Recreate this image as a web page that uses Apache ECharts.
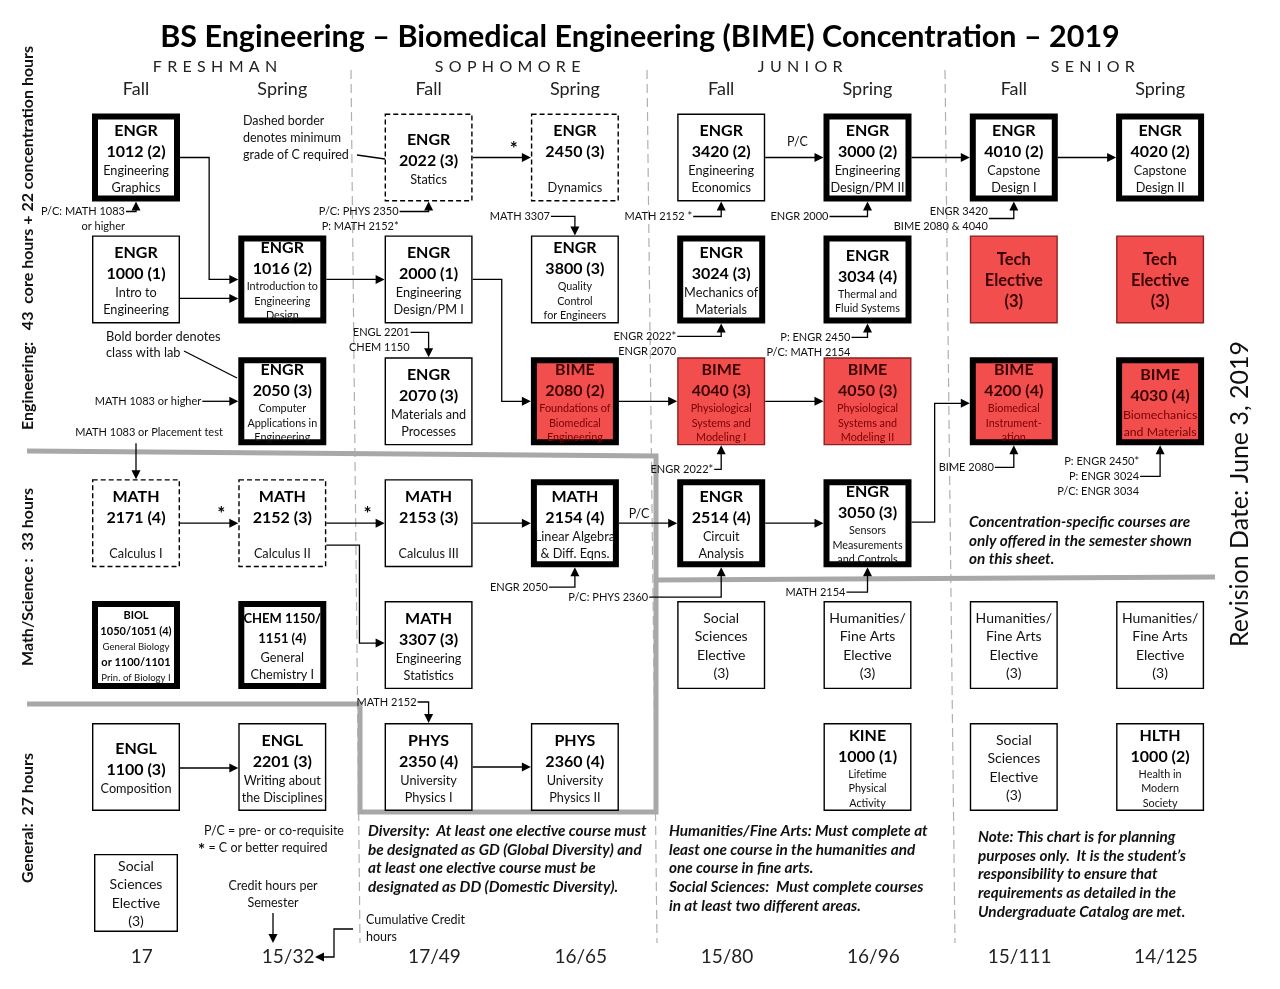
<!DOCTYPE html>
<html><head><meta charset="utf-8">
<script src="https://cdn.jsdelivr.net/npm/echarts@6/dist/echarts.min.js"></script>
<style>html,body{margin:0;padding:0;background:#fff}#c{width:1280px;height:989px}</style>
</head><body><div id="c"></div>
<script>
// ================= DATA =================
const chartTitle = 'BS Engineering – Biomedical Engineering (BIME) Concentration – 2019';
const yearNames = ['FRESHMAN', 'SOPHOMORE', 'JUNIOR', 'SENIOR'];
const semesterNames = ['Fall', 'Spring', 'Fall', 'Spring', 'Fall', 'Spring', 'Fall', 'Spring'];
const creditHours = ['17', '15/32', '17/49', '16/65', '15/80', '16/96', '15/111', '14/125'];
const sectionNames = ['Engineering:   43  core hours + 22 concentration hours', 'Math/Science :  33 hours', 'General:  27 hours'];
const revisionDate = 'Revision Date: June 3, 2019';

const courseLines = [
  ['ENGR', '1012 (2)', 'Engineering', 'Graphics'],
  ['ENGR', '2022 (3)', 'Statics'],
  ['ENGR', '2450 (3)', '', 'Dynamics'],
  ['ENGR', '3420 (2)', 'Engineering', 'Economics'],
  ['ENGR', '3000 (2)', 'Engineering', 'Design/PM II'],
  ['ENGR', '4010 (2)', 'Capstone', 'Design I'],
  ['ENGR', '4020 (2)', 'Capstone', 'Design II'],
  ['ENGR', '1000 (1)', 'Intro to', 'Engineering'],
  ['ENGR', '1016 (2)', 'Introduction to', 'Engineering', 'Design'],
  ['ENGR', '2000 (1)', 'Engineering', 'Design/PM I'],
  ['ENGR', '3800 (3)', 'Quality', 'Control', 'for Engineers'],
  ['ENGR', '3024 (3)', 'Mechanics of', 'Materials'],
  ['ENGR', '3034 (4)', 'Thermal and', 'Fluid Systems'],
  ['Tech', 'Elective', '(3)'],
  ['Tech', 'Elective', '(3)'],
  ['ENGR', '2050 (3)', 'Computer', 'Applications in', 'Engineering'],
  ['ENGR', '2070 (3)', 'Materials and', 'Processes'],
  ['BIME', '2080 (2)', 'Foundations of', 'Biomedical', 'Engineering'],
  ['BIME', '4040 (3)', 'Physiological', 'Systems and', 'Modeling I'],
  ['BIME', '4050 (3)', 'Physiological', 'Systems and', 'Modeling II'],
  ['BIME', '4200 (4)', 'Biomedical', 'Instrument-', 'ation'],
  ['BIME', '4030 (4)', 'Biomechanics', 'and Materials'],
  ['MATH', '2171 (4)', '', 'Calculus I'],
  ['MATH', '2152 (3)', '', 'Calculus II'],
  ['MATH', '2153 (3)', '', 'Calculus III'],
  ['MATH', '2154 (4)', 'Linear Algebra', '& Diff. Eqns.'],
  ['ENGR', '2514 (4)', 'Circuit', 'Analysis'],
  ['ENGR', '3050 (3)', 'Sensors', 'Measurements', 'and Controls'],
  ['BIOL', '1050/1051 (4)', 'General Biology', 'or 1100/1101', 'Prin. of Biology I'],
  ['CHEM 1150/', '1151 (4)', 'General', 'Chemistry I'],
  ['MATH', '3307 (3)', 'Engineering', 'Statistics'],
  ['Social', 'Sciences', 'Elective', '(3)'],
  ['Humanities/', 'Fine Arts', 'Elective', '(3)'],
  ['Humanities/', 'Fine Arts', 'Elective', '(3)'],
  ['Humanities/', 'Fine Arts', 'Elective', '(3)'],
  ['ENGL', '1100 (3)', 'Composition'],
  ['ENGL', '2201 (3)', 'Writing about', 'the Disciplines'],
  ['PHYS', '2350 (4)', 'University', 'Physics I'],
  ['PHYS', '2360 (4)', 'University', 'Physics II'],
  ['KINE', '1000 (1)', 'Lifetime', 'Physical', 'Activity'],
  ['Social', 'Sciences', 'Elective', '(3)'],
  ['HLTH', '1000 (2)', 'Health in', 'Modern', 'Society'],
  ['Social', 'Sciences', 'Elective', '(3)']
];
// semester index (0 = Freshman Fall ... 7 = Senior Spring)
const courseSemester = [0,2,3,4,5,6,7, 0,1,2,3,4,5,6,7, 1,2,3,4,5,6,7, 0,1,2,3,4,5, 0,1,2,4,5,6,7, 0,1,2,3,5,6,7, 0];
// row slot in the chart
const courseRow = [0,0,0,0,0,0,0, 1,1,1,1,1,1,1,1, 2,2,2,2,2,2,2, 3,3,3,3,3,3, 4,4,4,4,4,4,4, 5,5,5,5,5,5,5, 6];
// lab = bold border, minC = dashed border (min grade C), std, bime / bimeLab = concentration, tech, elec
const courseKind = ['lab','minC','minC','std','lab','lab','lab',
  'std','lab','std','std','lab','lab','tech','tech',
  'lab','std','bimeLab','bime','bime','bimeLab','bimeLab',
  'minC','minC','std','lab','lab','lab',
  'lab','lab','std','elec','elec','elec','elec',
  'std','std','std','std','std','elec','std',
  'elec'];

// course-to-course flow arrows
const linkFrom = [0, 7, 8, 9, 1, 3, 4, 5, 17, 18, 27, 22, 23, 24, 25, 26, 23, 35, 37];
const linkTo   = [8, 8, 9, 17, 2, 4, 5, 6, 18, 19, 20, 23, 24, 25, 26, 27, 30, 36, 38];
const linkMark = ['', '', '', '', '*', 'P/C', '', '', '', '', '', '*', '*', '', 'P/C', '', '', '', ''];

// prerequisite notes pointing at a course
const prereqText = [
  ['P/C: MATH 1083', 'or higher'],
  ['P/C: PHYS 2350', 'P: MATH 2152*'],
  ['MATH 3307'],
  ['MATH 2152 *'],
  ['ENGR 2000'],
  ['ENGR 3420', 'BIME 2080 & 4040'],
  ['ENGL 2201', 'CHEM 1150'],
  ['ENGR 2022*', 'ENGR 2070'],
  ['P: ENGR 2450', 'P/C: MATH 2154'],
  ['ENGR 2022*'],
  ['BIME 2080'],
  ['P: ENGR 2450*', 'P: ENGR 3024', 'P/C: ENGR 3034'],
  ['ENGR 2050'],
  ['P/C: PHYS 2360'],
  ['MATH 2154'],
  ['MATH 2152'],
  ['MATH 1083 or higher'],
  ['MATH 1083 or Placement test']
];
const prereqTarget = [0, 1, 10, 3, 4, 5, 16, 11, 12, 18, 20, 21, 25, 26, 27, 37, 15, 22];

const legendDashed = 'Dashed border\ndenotes minimum\ngrade of C required';
const legendBold = 'Bold border denotes\nclass with lab';
const legendPC = 'P/C = pre- or co-requisite';
const legendStar = ' = C or better required';
const legendCredit = 'Credit hours per\nSemester';
const legendCumulative = 'Cumulative Credit\nhours';
const noteConcentration = 'Concentration-specific courses are\nonly offered in the semester shown\non this sheet.';
const noteDiversity = 'Diversity:  At least one elective course must\nbe designated as GD (Global Diversity) and\nat least one elective course must be\ndesignated as DD (Domestic Diversity).';
const noteHumanities = 'Humanities/Fine Arts: Must complete at\nleast one course in the humanities and\none course in fine arts.\nSocial Sciences:  Must complete courses\nin at least two different areas.';
const notePlanning = 'Note: This chart is for planning\npurposes only.  It is the student\u2019s\nresponsibility to ensure that\nrequirements as detailed in the\nUndergraduate Catalog are met.';

// ================= LAYOUT =================
const F = 'Lato, "Open Sans", sans-serif';
const X0 = 136, XS = 146.3, Y0 = 157.5, YS = 121.9;   // column / row pitch
function P(px, py) { return [(px - X0) / XS, (py - Y0) / YS]; }
const HW = 44, HH = 44;
const RED = '#f24e4e';

// link routing: [route, dyFrom, dyTo, elbowShift, labelRaise, labelShift]
const linkLayout = [
  ['e', 0, 0, 0], ['h', 19, 19], ['h', 0, 0], ['e', 0, 0, 0], ['h', 0, 0],
  ['h', 0, 0, 0, 16, 3], ['h', 0, 0], ['h', 0, 0], ['h', 0, 0], ['h', 0, 0],
  ['e', -1, 2, -6], ['h', 0, 0], ['h', 0, 0], ['h', 0, 0], ['h', 0, 0, 0, 9, -9],
  ['h', 0, 0], ['e', 22, -2, 4], ['h', 1, 1], ['h', 0, 0]
];
// note layout: [side, gap, reach, lineIndexOfConnector]
const noteLayout = [
  ['below', 10, 10, 0], ['below', 10, 29, 0], ['above', 19, 24, 0], ['below', 15, 28, 0],
  ['below', 15, 38, 0], ['below', 17, 25, 0.45], ['above', 25, 18, 0], ['below', 13, 44, 0],
  ['below', 14, 16, 0], ['below', 24, 7, 0], ['below', 22, 19, 0], ['below', 31, 20, 1],
  ['below', 20, 26, 0], ['below', 30, 72, 0], ['below', 25, 21, 0], ['above', 21, 11, 0],
  ['left', 0, 36, 0], ['drop', 36, 0, 0]
];
const smallDesc = new Set([8, 10, 12, 15, 17, 18, 19, 20, 27, 39, 41]);
const lineStyleOverride = {
  28: ['b', 'b', 'x', 'b', 'x'],
  29: ['c', 'c', 'd', 'd']
};

const RICH = {
  h: { fontFamily: F, fontWeight: 'bold', fontSize: 16, lineHeight: 21, fill: '#000' },
  d: { fontFamily: F, fontSize: 12.7, lineHeight: 17, fill: '#111' },
  s: { fontFamily: F, fontSize: 10.8, lineHeight: 14.5, fill: '#111' },
  hr: { fontFamily: F, fontWeight: 'bold', fontSize: 16, lineHeight: 21, fill: '#3a0000' },
  dr: { fontFamily: F, fontSize: 12.3, lineHeight: 17, fill: '#780000' },
  sr: { fontFamily: F, fontSize: 10.8, lineHeight: 14.5, fill: '#780000' },
  t: { fontFamily: F, fontWeight: 'bold', fontSize: 16.5, lineHeight: 21, fill: '#3a0000' },
  e: { fontFamily: F, fontSize: 14, lineHeight: 18.5, fill: '#111' },
  b: { fontFamily: F, fontWeight: 'bold', fontSize: 11, lineHeight: 16, fill: '#000' },
  x: { fontFamily: F, fontSize: 9.6, lineHeight: 15, fill: '#111' },
  c: { fontFamily: F, fontWeight: 'bold', fontSize: 13, lineHeight: 20, fill: '#000' }
};

function courseText(i) {
  const kind = courseKind[i];
  const red = kind === 'bime' || kind === 'bimeLab';
  return courseLines[i].map((ln, j) => {
    let k;
    if (lineStyleOverride[i]) k = lineStyleOverride[i][j];
    else if (kind === 'tech') k = 't';
    else if (kind === 'elec') k = 'e';
    else if (j < 2) k = red ? 'hr' : 'h';
    else k = (smallDesc.has(i) ? 's' : 'd') + (red ? 'r' : '');
    return '{' + k + '|' + (ln === '' ? ' ' : ln) + '}';
  }).join('\n');
}

function arrow(x, y, dir) {
  const L = 9, W = 4.5;
  let pts;
  if (dir === 'right') pts = [[x, y], [x - L, y - W], [x - L, y + W]];
  else if (dir === 'left') pts = [[x, y], [x + L, y - W], [x + L, y + W]];
  else if (dir === 'up') pts = [[x, y], [x - W, y + L], [x + W, y + L]];
  else pts = [[x, y], [x - W, y - L], [x + W, y - L]];
  return { type: 'polygon', shape: { points: pts }, style: { fill: '#000' } };
}
function pline(pts, extra) {
  return { type: 'polyline', shape: { points: pts }, style: Object.assign({ stroke: '#000', lineWidth: 1.3, fill: null }, extra || {}) };
}
function txt(x, y, text, st, rot) {
  const el = { type: 'text', x: x, y: y, style: Object.assign({ text: text, fontFamily: F, fill: '#111' }, st) };
  if (rot) el.rotation = rot;
  return el;
}

// ---------- render: courses ----------
function renderCourse(params, api) {
  const i = params.dataIndex;
  const c = api.coord([api.value(0), api.value(1)]);
  const kind = courseKind[i];
  const last = courseRow[i] === 6;
  const w = last ? 84 : 88, h = last ? 78 : 88;
  const cy = c[1] + (last ? 4 : 0);
  const bold = kind === 'lab' || kind === 'bimeLab';
  const red = kind === 'bime' || kind === 'bimeLab' || kind === 'tech';
  const lw = bold ? 6 : 1.4;
  const rect = {
    type: 'rect',
    shape: { x: c[0] - w / 2 + lw / 2, y: cy - h / 2 + lw / 2, width: w - lw, height: h - lw },
    style: {
      fill: red ? RED : '#fff',
      stroke: (kind === 'bime' || kind === 'tech') ? '#8a2020' : '#000',
      lineWidth: lw,
      lineDash: kind === 'minC' ? [5, 3] : null
    }
  };
  const text = {
    type: 'text', x: c[0], y: cy + 1,
    style: { text: courseText(i), rich: RICH, align: 'center', verticalAlign: 'middle', fontFamily: F, fill: '#000' }
  };
  return { type: 'group', children: [rect, text] };
}

// ---------- render: links ----------
function renderLink(params, api) {
  const k = params.dataIndex;
  const f = linkFrom[k], t = linkTo[k];
  const cf = api.coord([courseSemester[f], courseRow[f]]);
  const ct = api.coord([courseSemester[t], courseRow[t]]);
  const L = linkLayout[k];
  const x1 = cf[0] + HW, y1 = cf[1] + L[1], x2 = ct[0] - HW;
  let y2, pts;
  if (L[0] === 'h') { y2 = y1; pts = [[x1, y1], [x2 - 8, y1]]; }
  else {
    y2 = ct[1] + L[2];
    const xm = (x1 + x2) / 2 + (L[3] || 0);
    pts = [[x1, y1], [xm, y1], [xm, y2], [x2 - 8, y2]];
  }
  const ch = [pline(pts), arrow(x2, y2, 'right')];
  const m = linkMark[k];
  if (m === '*') ch.push(txt(x2 - 17, y2 - 9, '*', { fontSize: 19, fontWeight: 'bold', fill: '#000', align: 'center', verticalAlign: 'middle' }));
  else if (m) ch.push(txt((x1 + x2) / 2 + (L[5] || 0), y2 - (L[4] || 12), m, { fontSize: 12.5, fill: '#111', align: 'center', verticalAlign: 'middle' }));
  return { type: 'group', children: ch };
}

// ---------- render: prerequisite notes ----------
function renderNote(params, api) {
  const k = params.dataIndex;
  const c = api.coord([api.value(0), api.value(1)]);
  const [side, gap, reach, at] = noteLayout[k];
  const lines = prereqText[k].join('\n');
  const lh = 15;
  const cx = c[0], top = c[1] - HH, bot = c[1] + HH;
  const ch = [];
  const tstyle = { fontSize: 11, lineHeight: lh, fill: '#111' };
  if (side === 'below' || side === 'above') {
    const edge = side === 'below' ? bot : top;
    const ly = side === 'below' ? bot + gap : top - gap;
    const tx = cx - reach;
    const endY = side === 'below' ? edge + 8 : edge - 8;
    ch.push(pline([[tx, ly], [cx, ly], [cx, endY]]));
    ch.push(arrow(cx, edge, side === 'below' ? 'up' : 'down'));
    ch.push(txt(tx - 1, ly - at * lh - lh / 2, lines, Object.assign({ align: 'right', verticalAlign: 'top' }, tstyle)));
  } else if (side === 'left') {
    const ly = c[1];
    const tx = cx - HW - reach;
    ch.push(pline([[tx, ly], [cx - HW - 8, ly]]));
    ch.push(arrow(cx - HW, ly, 'right'));
    ch.push(txt(tx - 1, ly, lines, Object.assign({ align: 'right', verticalAlign: 'middle' }, tstyle)));
  } else {
    ch.push(pline([[cx, top - gap], [cx, top - 8]]));
    ch.push(arrow(cx, top, 'down'));
    ch.push(txt(cx + 13, top - gap - 11, lines, Object.assign({ align: 'center', verticalAlign: 'middle' }, tstyle)));
  }
  return { type: 'group', children: ch };
}

// ---------- free texts ----------
const spaced = s => s.split('').join('\u2004');
const freeTexts = [];
freeTexts.push({ p: P(640, 37), t: chartTitle, s: { fontSize: 30.5, fontWeight: 'bold', fill: '#000', align: 'center', verticalAlign: 'middle' } });
yearNames.forEach((y, k) => freeTexts.push({ p: [2 * k + 0.54, P(0, 67)[1]], t: spaced(y), s: { fontSize: 16, fill: '#222', align: 'center', verticalAlign: 'middle' } }));
semesterNames.forEach((s, i) => freeTexts.push({ p: [i, P(0, 89)[1]], t: s, s: { fontSize: 18, fill: '#222', align: 'center', verticalAlign: 'middle' } }));
creditHours.forEach((s, i) => freeTexts.push({ p: [i + 0.04, P(0, 957)[1]], t: s, s: { fontSize: 19, fill: '#222', align: 'center', verticalAlign: 'middle' } }));
[[28, 238], [28, 577], [28, 818]].forEach((q, k) => freeTexts.push({ p: P(q[0], q[1]), t: sectionNames[k], r: Math.PI / 2, s: { fontSize: 16, fontWeight: 'bold', fill: '#111', align: 'center', verticalAlign: 'middle' } }));
freeTexts.push({ p: P(1240, 494), t: revisionDate, r: Math.PI / 2, s: { fontSize: 25, fill: '#111', align: 'center', verticalAlign: 'middle' } });
freeTexts.push({ p: P(243, 112.5), t: legendDashed, s: { fontSize: 12.5, lineHeight: 17, align: 'left', verticalAlign: 'top' } });
freeTexts.push({ p: P(106, 329), t: legendBold, s: { fontSize: 12.8, lineHeight: 16, align: 'left', verticalAlign: 'top' } });
freeTexts.push({ p: P(204, 831), t: legendPC, s: { fontSize: 12.5, align: 'left', verticalAlign: 'middle' } });
freeTexts.push({ p: P(198, 848), t: '{a|*}{n|' + legendStar + '}', s: { align: 'left', verticalAlign: 'middle', rich: { a: { fontFamily: F, fontSize: 17, fontWeight: 'bold', fill: '#000', padding: [5, 0, 0, 0] }, n: { fontFamily: F, fontSize: 12.5, fill: '#111' } } } });
freeTexts.push({ p: P(273, 877.5), t: legendCredit, s: { fontSize: 12.5, lineHeight: 17, align: 'center', verticalAlign: 'top' } });
freeTexts.push({ p: P(366, 911.5), t: legendCumulative, s: { fontSize: 12.5, lineHeight: 17, align: 'left', verticalAlign: 'top' } });
const noteStyle = { fontSize: 15.3, fontWeight: 'bold', fontStyle: 'italic', lineHeight: 18.7, fill: '#111', align: 'left', verticalAlign: 'top' };
freeTexts.push({ p: P(969, 512.7), t: noteConcentration, s: noteStyle });
freeTexts.push({ p: P(368, 821.6), t: noteDiversity, s: noteStyle });
freeTexts.push({ p: P(669, 821.6), t: noteHumanities, s: noteStyle });
freeTexts.push({ p: P(978, 827.6), t: notePlanning, s: noteStyle });

function renderText(params, api) {
  const o = freeTexts[params.dataIndex];
  const c = api.coord([api.value(0), api.value(1)]);
  return txt(c[0], c[1], o.t, o.s, o.r);
}

// ---------- free lines (section frames, legends) ----------
const freeLines = [
  { pts: [[351, 70], [360, 943]], s: { stroke: '#b0b0b0', lineWidth: 1.2, lineDash: [9, 5] } },
  { pts: [[647, 70], [657, 943]], s: { stroke: '#b0b0b0', lineWidth: 1.2, lineDash: [9, 5] } },
  { pts: [[945, 70], [955, 943]], s: { stroke: '#b0b0b0', lineWidth: 1.2, lineDash: [9, 5] } },
  { pts: [[27, 451], [656, 456], [656, 812], [360, 812], [360, 704], [27, 704]], s: { stroke: '#a8a8a8', lineWidth: 5, lineJoin: 'miter' } },
  { pts: [[656, 580], [1215, 577]], s: { stroke: '#a8a8a8', lineWidth: 5 } },
  { pts: [[357, 155], [385, 159]], s: {} },
  { pts: [[184, 351], [237, 378]], s: {} },
  { pts: [[273, 913], [273, 935]], s: {}, a: 'down' },
  { pts: [[353, 929], [334, 929], [334, 957], [323, 957]], s: {}, a: 'left' }
];
function renderLine(params, api) {
  const o = freeLines[params.dataIndex];
  const pts = o.pts.map(q => api.coord(P(q[0], q[1])));
  const ch = [pline(pts, o.s)];
  if (o.a) {
    const last = pts[pts.length - 1];
    const tip = o.a === 'down' ? [last[0], last[1] + 8] : [last[0] - 8, last[1]];
    ch.push(arrow(tip[0], tip[1], o.a));
  }
  return { type: 'group', children: ch };
}

// ================= CHART =================
const chart = echarts.init(document.getElementById('c'), null, { renderer: 'canvas' });
chart.setOption({
  backgroundColor: '#fff',
  animation: false,
  grid: { left: 0, right: 0, top: 0, bottom: 0 },
  xAxis: { type: 'value', min: -X0 / XS, max: (1280 - X0) / XS, show: false },
  yAxis: { type: 'value', inverse: true, min: -Y0 / YS, max: (989 - Y0) / YS, show: false },
  series: [
    { type: 'custom', name: 'frames', silent: true, clip: false, renderItem: renderLine,
      data: freeLines.map(o => P(o.pts[0][0], o.pts[0][1])) },
    { type: 'custom', name: 'links', silent: true, clip: false, renderItem: renderLink,
      data: linkFrom.map(f => [courseSemester[f], courseRow[f]]) },
    { type: 'custom', name: 'prereqs', silent: true, clip: false, renderItem: renderNote,
      data: prereqTarget.map(c => [courseSemester[c], courseRow[c]]) },
    { type: 'custom', name: 'courses', silent: true, clip: false, renderItem: renderCourse,
      data: courseSemester.map((s, i) => [s, courseRow[i]]) },
    { type: 'custom', name: 'texts', silent: true, clip: false, renderItem: renderText,
      data: freeTexts.map(o => o.p) }
  ]
});
</script>
</body></html>
